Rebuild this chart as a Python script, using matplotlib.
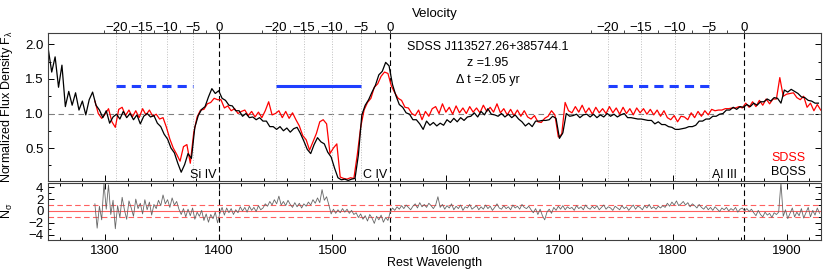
import numpy as np
import matplotlib
matplotlib.use('Agg')
import matplotlib.pyplot as plt
from matplotlib.ticker import MultipleLocator
import matplotlib.transforms as mtrans

plt.rcParams['font.family'] = ['Liberation Sans', 'DejaVu Sans']
plt.rcParams['mathtext.fontset'] = 'custom'
plt.rcParams['mathtext.rm'] = 'Liberation Sans'
plt.rcParams['mathtext.it'] = 'Liberation Sans:italic'
plt.rcParams['font.size'] = 9

# BOSS spectrum (rest frame, 3 A grid)
wave_boss = np.arange(1250, 1929, 3)
flux_boss = [
    1.93, 1.60, 1.82, 1.38, 1.70, 1.10, 1.32, 1.12, 1.30, 1.05,
    1.18, 0.98, 1.20, 1.31, 1.12, 1.05, 0.94, 1.04, 0.86, 0.95,
    0.99, 0.92, 1.03, 0.94, 1.00, 0.91, 0.98, 0.85, 0.96, 1.00,
    0.95, 0.97, 0.86, 0.81, 0.70, 0.63, 0.50, 0.43, 0.28, 0.15,
    0.26, 0.42, 0.35, 0.80, 0.97, 1.06, 1.10, 1.24, 1.36, 1.29,
    1.33, 1.22, 1.19, 1.12, 1.11, 1.04, 1.04, 0.96, 1.00, 0.94,
    0.95, 0.91, 0.94, 0.89, 0.89, 0.81, 0.81, 0.77, 0.81, 0.75,
    0.79, 0.73, 0.78, 0.80, 0.71, 0.60, 0.48, 0.42, 0.55, 0.65,
    0.59, 0.56, 0.44, 0.37, 0.21, 0.07, 0.04, 0.05, 0.03, 0.05,
    0.06, 0.40, 0.98, 1.12, 1.20, 1.31, 1.41, 1.56, 1.61, 1.74,
    1.69, 1.42, 1.26, 1.13, 1.09, 1.01, 0.99, 0.91, 0.91, 0.85,
    0.77, 0.89, 0.83, 0.87, 0.82, 0.86, 0.83, 0.91, 0.87, 0.93,
    0.88, 0.94, 0.90, 0.95, 0.96, 1.01, 0.95, 1.03, 0.98, 1.07,
    0.99, 0.98, 0.96, 1.00, 0.95, 0.99, 0.94, 0.98, 0.92, 0.88,
    0.82, 0.86, 0.81, 0.89, 0.89, 0.90, 0.90, 0.91, 0.96, 0.93,
    0.64, 0.72, 1.00, 0.96, 0.97, 0.99, 0.94, 0.98, 0.99, 0.95,
    0.99, 0.94, 0.98, 0.95, 1.00, 0.96, 0.99, 0.95, 0.98, 1.00,
    0.94, 0.94, 0.93, 0.92, 0.92, 0.91, 0.90, 0.90, 0.85, 0.88,
    0.84, 0.84, 0.81, 0.80, 0.77, 0.77, 0.78, 0.79, 0.81, 0.81,
    0.83, 0.89, 0.89, 0.92, 0.92, 0.96, 0.96, 0.99, 1.00, 1.05,
    1.05, 1.09, 1.06, 1.10, 1.09, 1.13, 1.10, 1.15, 1.12, 1.17,
    1.17, 1.21, 1.18, 1.23, 1.22, 1.15, 1.34, 1.31, 1.35, 1.32,
    1.29, 1.24, 1.23, 1.19, 1.18, 1.15, 1.15]

# SDSS spectrum
wave_sdss = np.arange(1291, 1931, 3)
flux_sdss = [
    1.18, 1.00, 0.93, 0.99, 1.07, 0.88, 0.80, 1.06, 1.09, 0.97,
    1.05, 0.95, 1.04, 0.94, 1.07, 0.98, 1.05, 0.96, 0.99, 0.92,
    0.94, 0.80, 0.63, 0.50, 0.41, 0.31, 0.52, 0.55, 0.28, 0.72,
    0.95, 1.05, 1.06, 1.14, 1.16, 1.22, 1.20, 1.20, 1.08, 1.11,
    1.04, 1.07, 1.00, 1.03, 1.05, 0.97, 1.03, 0.95, 1.02, 0.94,
    1.04, 1.17, 0.98, 1.00, 1.04, 0.94, 1.03, 0.93, 1.01, 0.91,
    0.82, 0.68, 0.62, 0.47, 0.59, 0.71, 0.88, 0.91, 0.85, 0.42,
    0.50, 0.56, 0.08, 0.06, 0.05, 0.07, 0.06, 0.40, 0.80, 1.05,
    1.16, 1.22, 1.38, 1.43, 1.54, 1.60, 1.58, 1.40, 1.30, 1.22,
    1.19, 1.09, 1.08, 1.00, 0.97, 1.05, 0.91, 1.03, 0.96, 1.07,
    1.10, 1.00, 1.14, 1.02, 1.09, 0.99, 1.11, 1.01, 1.08, 1.00,
    1.10, 1.02, 1.08, 1.01, 1.12, 1.03, 1.09, 1.02, 1.14, 1.01,
    1.07, 0.98, 1.06, 0.97, 1.05, 0.96, 1.04, 0.95, 0.92, 0.97,
    0.88, 0.87, 0.93, 0.96, 1.04, 0.98, 0.66, 0.70, 1.16, 1.04,
    1.01, 1.10, 1.02, 1.12, 1.01, 1.08, 0.99, 1.09, 1.01, 1.07,
    1.00, 1.10, 1.01, 1.08, 0.99, 1.09, 1.00, 1.07, 0.98, 1.08,
    1.01, 1.07, 0.99, 1.06, 0.98, 1.05, 0.96, 1.04, 0.94, 0.91,
    0.97, 0.88, 0.96, 0.95, 0.91, 1.01, 0.94, 1.03, 0.96, 1.04,
    0.98, 1.06, 1.04, 1.05, 1.05, 1.07, 1.07, 1.08, 1.08, 1.10,
    1.08, 1.15, 1.09, 1.17, 1.10, 1.19, 1.12, 1.21, 1.14, 1.21,
    1.21, 1.52, 1.25, 1.28, 1.29, 1.30, 1.23, 1.20, 1.25, 1.09,
    1.15, 1.04, 1.13, 1.05]

# N_sigma difference (2 A grid)
wave_nsig = np.arange(1291, 1930, 2)
nsig = [
    1.2, -2.9, 0.8, -1.5, 4.7, 0.3, 4.4, -0.6, 1.8, -3.0,
    0.9, -1.1, 2.3, 0.2, -1.4, 1.7, 0.5, -0.9, 2.0, 0.4,
    1.3, -0.5, 1.9, 0.2, 1.5, -0.7, 1.1, 0.4, 1.8, 0.9,
    2.7, 1.2, 1.9, 0.6, 2.2, 1.0, 1.6, 0.3, -0.6, 0.4,
    -1.0, 0.3, -0.8, 0.5, -1.4, -0.2, -0.9, 0.1, -1.6, -0.5,
    -1.9, -0.6, -1.3, -0.2, -2.0, -0.4, 0.6, -0.7, 0.5, -0.3,
    0.4, -0.6, 0.2, -0.3, 0.7, 0.0, 0.6, -0.2, 0.8, 0.1,
    0.6, -0.1, 0.9, 0.2, 0.5, 1.2, 0.8, 1.6, 1.0, 1.9,
    1.2, 2.5, 1.0, 1.6, 0.9, 1.8, 1.1, 0.6, 1.4, 0.7,
    1.3, 0.5, 1.2, 0.8, 1.5, 1.0, 1.9, 1.3, 2.2, 1.4,
    3.6, 1.8, 2.4, 1.0, -0.5, 0.3, -0.4, 0.2, -0.3, 0.4,
    -0.2, 0.3, -0.4, 0.1, -0.6, -0.3, -1.1, -0.5, -1.4, -0.8,
    -1.7, -0.6, -1.2, -2.1, -0.9, -1.5, -0.7, -1.9, -1.1, -1.6,
    -0.2, 0.5, 0.1, 0.7, 0.3, 0.9, 0.4, 1.0, 0.6, 0.2,
    0.8, 1.2, 0.5, 1.4, 0.7, 1.1, 0.6, 1.3, 0.9, 0.4,
    1.0, 2.4, 0.6, 1.1, 0.3, 0.9, 0.5, 1.2, 0.2, 0.8,
    0.4, 1.0, 0.1, 0.7, 0.5, 1.1, 0.3, 0.6, 0.9, 0.2,
    0.7, 0.3, 1.0, 0.4, 0.8, 0.1, 0.6, 1.2, 0.5, 0.3,
    0.9, 0.4, 0.7, 0.2, 1.0, 0.5, 0.8, 0.3, 1.1, 0.6,
    0.4, 0.8, 0.2, -0.3, 0.4, -0.6, 0.3, -0.8, -1.5, -0.2,
    0.3, -0.4, 0.6, 0.1, 0.8, 0.3, 0.9, 0.2, 0.7, 0.4,
    0.6, 0.1, 0.9, 0.4, 0.7, 0.2, 1.0, 0.5, 0.3, 0.8,
    0.4, 0.9, 0.2, 0.6, 1.0, 0.3, 0.7, 0.5, 0.1, 0.8,
    0.5, 0.2, 0.9, 0.4, 0.7, 0.1, 0.6, 1.0, 0.3, 0.8,
    0.6, 0.2, 0.9, 0.5, 1.1, 0.4, 0.7, 0.3, 0.8, 0.5,
    0.9, 0.6, 1.3, 0.8, 1.5, 1.0, 1.7, 0.9, 1.2, 1.6,
    1.0, 1.4, 0.7, 1.2, 0.9, 0.5, 1.1, 0.6, 0.3, 0.8,
    0.2, 0.6, 0.1, 0.7, 0.3, -0.1, 0.5, 0.2, 0.6, 0.0,
    0.4, 0.1, 0.6, -0.2, 0.3, 0.5, 0.0, 0.4, -0.1, 0.3,
    -0.3, -0.8, 0.1, -0.6, -1.0, -0.2, -0.7, -0.4, -1.1, -0.3,
    -0.6, -0.2, 4.8, -0.9, 0.2, -1.3, -0.4, 0.5, -1.0, -0.2,
    -0.8, 0.4, -1.2, -0.3, 0.6, -1.0, 0.1, -0.7, 0.5, -0.4]

line_names = ['Si IV', 'C IV', 'Al III']
line_wave = [1400.4, 1550.77, 1862.79]
trough_ls = ['--', '-', '--']
vel_ticks = [-20, -15, -10, -5, 0]   # 1000 km/s
vel_minor = [-22.5, -17.5, -12.5, -7.5, -2.5]
c = 299792.458


def v2lam(v, lam0):
    b = v * 1000.0 / c
    return lam0 * np.sqrt((1 + b) / (1 - b))


fig = plt.figure(figsize=(8.3, 2.78), dpi=100)
ax = fig.add_axes([0.0582, 0.3507, 0.9306, 0.5317])
ax2 = fig.add_axes([0.0582, 0.1367, 0.9306, 0.2068])

# --- top panel
ax.axhline(1.0, color='0.5', ls=(0, (5, 4)), lw=0.8)
for l0, ls in zip(line_wave, trough_ls):
    for v in vel_ticks[:-1]:
        ax.axvline(v2lam(v, l0), color='0.75', ls=':', lw=0.7)
    ax.axvline(l0, color='k', ls=(0, (5, 3)), lw=0.8)
    ax.plot([v2lam(-20, l0), v2lam(-5, l0)], [1.4, 1.4], color='#1f3fff',
            lw=2.2, ls=(0, (3, 2)) if ls == '--' else '-', solid_capstyle='butt')
    ax2.axvline(l0, color='k', ls=(0, (5, 3)), lw=0.8)

ax.plot(wave_sdss, flux_sdss, color='red', lw=0.9)
ax.plot(wave_boss, flux_boss, color='black', lw=0.9)

ax.set_xlim(1250, 1930)
ax.set_ylim(0.03, 2.17)
ax.xaxis.set_major_locator(MultipleLocator(100))
ax.xaxis.set_minor_locator(MultipleLocator(20))
ax.yaxis.set_minor_locator(MultipleLocator(0.25))
ax.tick_params(which='both', direction='in', top=True, right=True,
               labelbottom=False, labelsize=9.5)
ax.tick_params(which='major', length=4.5, width=0.7)
ax.tick_params(which='minor', length=2.5, width=0.7)
ax.set_yticks([0.5, 1.0, 1.5, 2.0])
ax.set_yticklabels(['0.5', '1.0', '1.5', '2.0'])
ax.set_ylabel(r'Normalized Flux Density F$_{\mathrm{\lambda}}$')
ax.yaxis.set_label_coords(-0.043, 0.5)

# velocity axis on top (ticks outward, labels placed just above the frame)
top = ax.twiny()
top.set_xlim(ax.get_xlim())
pos = [v2lam(v, l0) for l0 in line_wave for v in vel_ticks]
labs = [('\u2212%d' % -v) if v < 0 else '0' for l0 in line_wave for v in vel_ticks]
top.set_xticks(pos)
top.set_xticks([v2lam(v, l0) for l0 in line_wave for v in vel_minor], minor=True)
top.tick_params(axis='x', which='both', direction='out', labeltop=False,
                width=0.7, color='0.25')
top.tick_params(axis='x', which='major', length=3)
top.tick_params(axis='x', which='minor', length=2)
for s in top.spines.values():
    s.set_visible(False)

vtrans = mtrans.blended_transform_factory(ax.transData, fig.transFigure)
for p, lab in zip(pos, labs):
    ax.text(p, 0.889, lab, transform=vtrans, ha='center', va='baseline',
            fontsize=9.5)
fig.text(0.524, 0.94, 'Velocity', ha='center', va='baseline', fontsize=9.5)

ax.text(0.569, 0.905, 'SDSS J113527.26+385744.1', transform=ax.transAxes,
        ha='center', va='center')
ax.text(0.569, 0.795, 'z =1.95', transform=ax.transAxes, ha='center', va='center')
ax.text(0.569, 0.68, '\u0394 t =2.05 yr', transform=ax.transAxes,
        ha='center', va='center')

trans = mtrans.blended_transform_factory(ax.transData, ax.transAxes)
offs = [2.3, 2.0, 6.5]
for name, l0, off in zip(line_names, line_wave, offs):
    ax.text(l0 - off, 0.0, name, transform=trans, ha='right', va='bottom')

ax.text(0.958, 0.154, 'SDSS', color='red', transform=ax.transAxes,
        ha='center', va='center')
ax.text(0.958, 0.055, 'BOSS', color='black', transform=ax.transAxes,
        ha='center', va='center')

# --- bottom panel
ax2.axhline(0, color='#ff6060', lw=0.8)
ax2.axhline(1, color='#ff6060', lw=0.8, ls=(0, (5, 3)))
ax2.axhline(-1, color='#ff6060', lw=0.8, ls=(0, (5, 3)))
ax2.plot(wave_nsig, nsig, color='0.4', lw=0.6)
ax2.set_xlim(1250, 1930)
ax2.set_ylim(-4.9, 4.8)
ax2.xaxis.set_major_locator(MultipleLocator(100))
ax2.xaxis.set_minor_locator(MultipleLocator(20))
ax2.yaxis.set_major_locator(MultipleLocator(2))
ax2.yaxis.set_minor_locator(MultipleLocator(1))
ax2.tick_params(which='both', direction='in', top=True, right=True, labelsize=9.5)
ax2.tick_params(which='major', length=4.5, width=0.7)
ax2.tick_params(which='minor', length=2.5, width=0.7)
ax2.set_xlabel('Rest Wavelength', labelpad=0)
ax2.set_ylabel(r'N$_{\mathrm{\sigma}}$')
ax2.yaxis.set_label_coords(-0.043, 0.5)

for a in (ax, ax2):
    for s in a.spines.values():
        s.set_linewidth(0.8)
        s.set_color('0.25')

fig.savefig('out.png', dpi=100)
